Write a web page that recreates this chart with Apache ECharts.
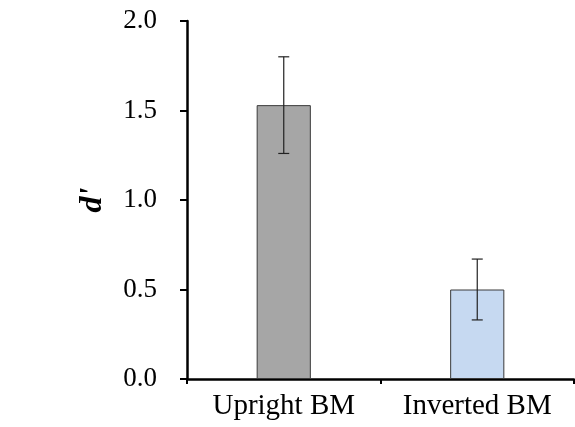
<!DOCTYPE html>
<html><head><meta charset="utf-8">
<script src="https://cdn.jsdelivr.net/npm/echarts@6/dist/echarts.min.js"></script>
<style>html,body{margin:0;padding:0;background:#fff}#c{width:575px;height:427px}</style>
</head><body><div id="c"></div>
<script>
const categories = ['Upright BM', 'Inverted BM'];
const means = [1.53, 0.50];
const errors = [0.27, 0.17];
const barColors = ['#a6a6a6', '#c6d9f1'];
const yTicks = [0, 0.5, 1.0, 1.5, 2.0];

const chart = echarts.init(document.getElementById('c'));
const font = '"Liberation Serif", "Times New Roman", serif';
chart.setOption({
  animation: false,
  grid: { left: 187, right: 1, top: 21, bottom: 48, containLabel: false },
  xAxis: {
    type: 'category', data: categories,
    axisLine: { lineStyle: { color: '#000', width: 2.5 } },
    axisTick: { show: true, inside: false, length: 5, interval: 0, lineStyle: { color: '#000', width: 2 } },
    axisLabel: { color: '#000', fontFamily: font, fontSize: 29, margin: 13, interval: 0, hideOverlap: false }
  },
  yAxis: {
    type: 'value', min: 0, max: 2, interval: 0.5,
    name: "d'", nameLocation: 'middle', nameGap: 78, nameRotate: 90,
    nameTextStyle: { color: '#000', fontFamily: font, fontSize: 32, fontWeight: 'bold', fontStyle: 'italic' },
    axisLine: { show: true, lineStyle: { color: '#000', width: 2.5 } },
    axisTick: { show: true, inside: false, length: 7, lineStyle: { color: '#000', width: 2 } },
    splitLine: { show: false },
    axisLabel: { color: '#000', fontFamily: font, fontSize: 27, margin: 30,
      formatter: v => v.toFixed(1) }
  },
  series: [
    {
      type: 'bar', barWidth: '28%',
      data: means.map((v, i) => ({ value: v, itemStyle: { color: barColors[i] } })),
      itemStyle: { borderColor: '#3a3a3a', borderWidth: 1 }
    },
    {
      type: 'custom',
      data: means.map((v, i) => [i, v - errors[i], v + errors[i]]),
      renderItem: (params, api) => {
        const lo = api.coord([api.value(0), api.value(1)]);
        const hi = api.coord([api.value(0), api.value(2)]);
        const hw = 5.5;
        const st = { stroke: '#222', lineWidth: 1.2 };
        return { type: 'group', children: [
          { type: 'line', shape: { x1: lo[0], y1: lo[1], x2: hi[0], y2: hi[1] }, style: st },
          { type: 'line', shape: { x1: lo[0]-hw, y1: lo[1], x2: lo[0]+hw, y2: lo[1] }, style: st },
          { type: 'line', shape: { x1: hi[0]-hw, y1: hi[1], x2: hi[0]+hw, y2: hi[1] }, style: st }
        ]};
      },
      z: 10
    }
  ]
});
</script></body></html>
